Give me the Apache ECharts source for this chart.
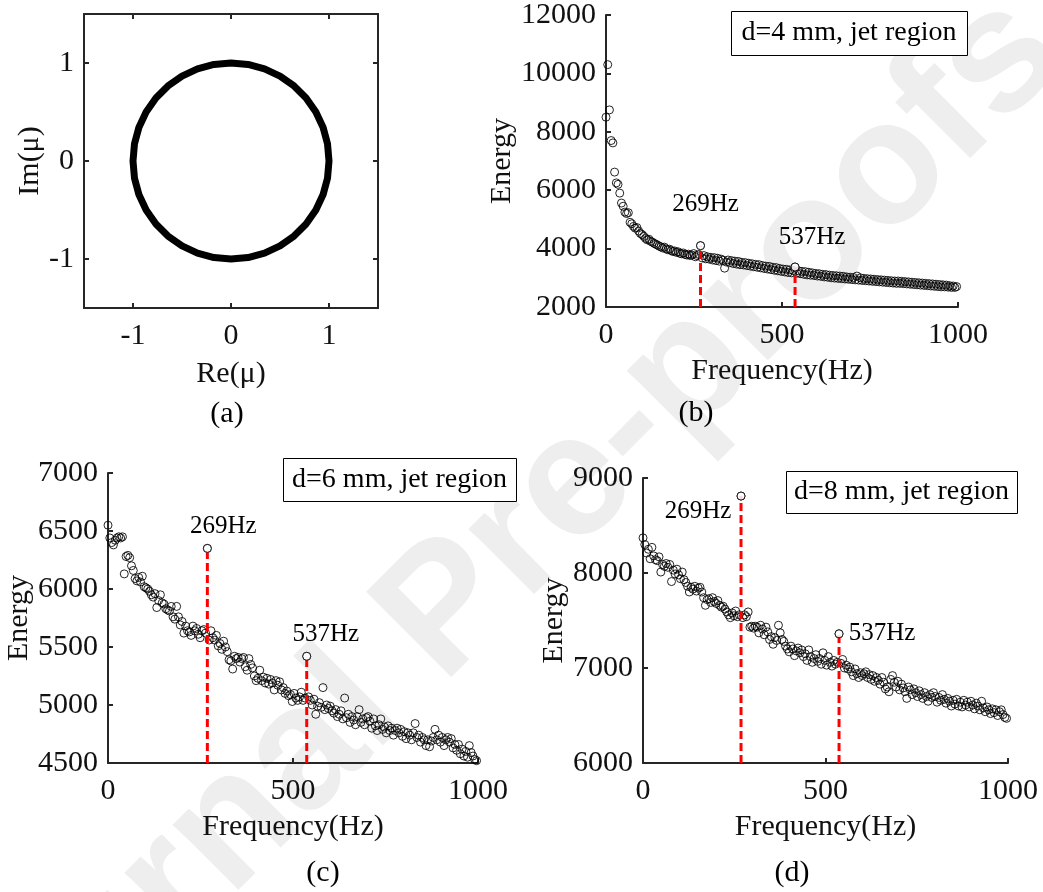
<!DOCTYPE html>
<html><head><meta charset="utf-8">
<script src="https://cdn.jsdelivr.net/npm/echarts@6/dist/echarts.min.js"></script>
<style>html,body{margin:0;padding:0;background:#fff}#c{width:1043px;height:892px}</style>
</head><body><div id="c"></div>
<script>
// ---------- data ----------
// (a) eigenvalues on the unit circle
const circleRe = [1,0.985,0.940,0.866,0.766,0.643,0.5,0.342,0.174,0,-0.174,-0.342,-0.5,-0.643,-0.766,-0.866,-0.940,-0.985,-1,-0.985,-0.940,-0.866,-0.766,-0.643,-0.5,-0.342,-0.174,0,0.174,0.342,0.5,0.643,0.766,0.866,0.940,0.985,1];
const circleIm = [0,0.174,0.342,0.5,0.643,0.766,0.866,0.940,0.985,1,0.985,0.940,0.866,0.766,0.643,0.5,0.342,0.174,0,-0.174,-0.342,-0.5,-0.643,-0.766,-0.866,-0.940,-0.985,-1,-0.985,-0.940,-0.866,-0.766,-0.643,-0.5,-0.342,-0.174,0];
const unitRange = [-1.5, 1.5];
const unitTicks = [-1, 0, 1];

// FFT bin spacing (Hz) of the energy spectra
const freqStep = 4.8828;

// (b) d=4 mm
const energyB = [
8500,10300,8750,7700,7620,6620,6250,6200,5900,5560,
5450,5250,5200,5230,4900,4850,4760,4700,4720,4600,
4520,4480,4420,4350,4300,4320,4250,4220,4180,4150,
4120,4080,4060,4020,4050,3990,3960,3980,3930,3900,
3920,3870,3890,3840,3820,3850,3800,3780,3810,3760,
3780,3830,3720,3760,3800,4100,3680,3760,3650,3720,
3640,3700,3610,3690,3590,3670,3570,3640,3600,3330,
3540,3610,3520,3590,3490,3570,3470,3560,3450,3530,
3440,3520,3420,3500,3400,3480,3380,3460,3360,3450,
3340,3420,3320,3400,3300,3390,3280,3360,3260,3350,
3240,3320,3220,3300,3200,3290,3180,3270,3170,3250,
3370,3160,3240,3140,3220,3120,3210,3100,3190,3090,
3170,3080,3150,3060,3140,3050,3120,3030,3110,3020,
3090,3000,3080,2990,3070,2980,3060,2970,3050,2960,
3030,2950,3020,2940,3010,2930,3060,2920,3000,2910,
2980,2900,2970,2890,2960,2880,2950,2870,2940,2860,
2930,2850,2920,2840,2910,2830,2900,2820,2890,2810,
2890,2810,2880,2800,2870,2790,2860,2780,2850,2770,
2840,2760,2830,2750,2820,2740,2810,2730,2800,2720,
2790,2710,2780,2700,2770,2690,2760,2690,2750,2680,
2730,2670,2720,2670,2700];

// (c) d=6 mm
const energyC = [
6550,6440,6400,6380,6420,6440,6450,6440,6450,6130,
6280,6290,6270,6200,6160,6090,6070,6100,6060,6110,
6020,6010,6000,5980,5950,5930,5960,5840,5900,5950,
5880,5870,5830,5820,5810,5850,5760,5740,5850,5760,
5690,5720,5620,5680,5640,5630,5600,5680,5640,5660,
5610,5580,5640,5650,5620,6350,5560,5640,5580,5560,
5600,5510,5530,5480,5550,5500,5460,5390,5380,5310,
5420,5400,5410,5370,5400,5410,5330,5300,5400,5350,
5320,5250,5210,5230,5300,5210,5240,5190,5230,5180,
5220,5190,5130,5210,5170,5200,5130,5150,5100,5120,
5080,5090,5030,5100,5060,5040,5070,5110,5040,5060,
5420,5070,5040,5000,5050,4920,4990,5020,4980,5150,
4960,5000,4970,4990,4950,4930,4960,4900,4920,4950,
4880,5060,4890,4920,4850,4900,4870,4830,4900,4960,
4850,4880,4830,4890,4900,4860,4800,4880,4820,4780,
4830,4880,4790,4810,4760,4820,4780,4800,4740,4780,
4800,4760,4790,4730,4770,4710,4760,4740,4700,4760,
4840,4720,4740,4680,4720,4700,4650,4700,4640,4690,
4720,4790,4700,4740,4680,4720,4650,4700,4720,4680,
4710,4630,4660,4610,4660,4580,4620,4560,4600,4550,
4650,4590,4560,4530,4520];

// (d) d=8 mm
const energyD = [
8370,8300,8210,8250,8150,8270,8180,8140,8130,8170,
8010,8090,8070,8100,8060,8090,7910,8030,7990,8040,
7980,7940,8010,7930,7900,7860,7800,7850,7830,7860,
7810,7840,7850,7800,7740,7660,7720,7730,7690,7740,
7700,7680,7710,7660,7640,7650,7620,7590,7560,7530,
7580,7550,7600,7540,7560,8810,7530,7560,7540,7590,
7430,7440,7420,7440,7430,7370,7450,7410,7350,7430,
7380,7300,7330,7250,7320,7290,7450,7370,7300,7280,
7230,7200,7170,7230,7200,7130,7180,7210,7160,7190,
7120,7150,7080,7190,7120,7060,7100,7140,7070,7100,
7040,7160,7080,7030,7120,7060,7020,7080,7040,7060,
7360,7050,7090,7000,7030,6990,7010,6960,6920,6990,
6940,6900,6950,6920,6940,6960,6900,6930,6880,6920,
6860,6900,6870,6830,6900,6850,6780,6800,6750,6880,
6920,6850,6800,6860,6770,6830,6790,6750,6680,6800,
6770,6720,6780,6740,6700,6760,6720,6680,6740,6700,
6650,6720,6690,6740,6700,6640,6690,6660,6720,6670,
6630,6680,6650,6600,6660,6620,6670,6600,6640,6590,
6660,6610,6640,6590,6650,6610,6570,6630,6600,6560,
6650,6580,6540,6590,6560,6520,6570,6530,6560,6500,
6540,6560,6510,6480,6470];

const peakIdx = [55, 110];
const peakLabels = ['269Hz', '537Hz'];
const panelNotes = ['d=4 mm, jet region', 'd=6 mm, jet region', 'd=8 mm, jet region'];
const panelLetters = ['(a)', '(b)', '(c)', '(d)'];
const freqAxis = [0, 1000, 500];
const energyAxes = [[2000, 12000, 2000], [4500, 7000, 500], [6000, 9000, 1000]];
const energies = [energyB, energyC, energyD];

// ---------- layout / style ----------
const FONT = '"Liberation Serif", "Times New Roman", serif';
const AX = '#262626';
const grids = [
  {left: 84, top: 14, width: 294, height: 294},
  {left: 606, top: 15, width: 352, height: 292},
  {left: 108, top: 473, width: 370, height: 290},
  {left: 643, top: 478, width: 365, height: 285}
];
const xNameGap = [51, 49, 49, 49];
const yNameGap = [35, 80, 66, 71];
const labelOffsets = [[[5, -41], [17, -30]], [[16, -22], [19, -22]], [[-43, 15], [43, 0]]];
const noteBoxes = [[731, 11, 236, 44], [283, 458, 233, 43], [786, 471, 231, 42]];
const letterPos = [[227, 414], [696, 413], [323, 873], [792, 873]];

const lineSt = {color: AX, width: 2};
const fmt = v => String(v);
const labelSt = {fontSize: 30, fontFamily: FONT, color: '#111', formatter: fmt};

function axis(gridIndex, type, range, extra) {
  const a = {
    type: 'value', gridIndex, min: range[0], max: range[1],
    axisLine: {show: true, onZero: false, lineStyle: lineSt},
    axisTick: {show: true, inside: true, length: 5, lineStyle: lineSt},
    axisLabel: Object.assign({show: true, margin: type === 'x' ? 13 : 10}, labelSt),
    splitLine: {show: false},
    nameLocation: 'middle',
    nameTextStyle: {fontSize: 30, fontFamily: FONT, color: '#111'}
  };
  if (range[2] !== undefined) a.interval = range[2];
  return Object.assign(a, extra || {});
}

const xAxes = [], yAxes = [], series = [];

// panel (a)
xAxes.push(axis(0, 'x', unitRange, {
  position: 'bottom', name: 'Re(μ)', nameGap: xNameGap[0],
  axisTick: {show: true, inside: true, length: 5, lineStyle: lineSt, customValues: unitTicks},
  axisLabel: Object.assign({margin: 13, customValues: unitTicks}, labelSt)
}));
xAxes.push(axis(0, 'x', unitRange, {
  position: 'top',
  axisTick: {show: true, inside: true, length: 5, lineStyle: lineSt, customValues: unitTicks},
  axisLabel: {show: false}
}));
yAxes.push(axis(0, 'y', unitRange, {
  position: 'left', name: 'Im(μ)', nameGap: yNameGap[0],
  axisTick: {show: true, inside: true, length: 5, lineStyle: lineSt, customValues: unitTicks},
  axisLabel: Object.assign({margin: 10, customValues: unitTicks}, labelSt)
}));
yAxes.push(axis(0, 'y', unitRange, {
  position: 'right',
  axisTick: {show: true, inside: true, length: 5, lineStyle: lineSt, customValues: unitTicks},
  axisLabel: {show: false}
}));
series.push({
  type: 'line', xAxisIndex: 0, yAxisIndex: 0,
  data: circleRe.map((r, i) => [r, circleIm[i]]),
  symbol: 'none', smooth: false, clip: false,
  lineStyle: {color: '#000', width: 7, join: 'round', cap: 'round'},
  silent: true, z: 2
});

// panels (b)-(d)
energies.forEach((E, k) => {
  const ai = k + 2;
  xAxes.push(axis(k + 1, 'x', freqAxis, {position: 'bottom', name: 'Frequency(Hz)', nameGap: xNameGap[k + 1]}));
  yAxes.push(axis(k + 1, 'y', energyAxes[k], {position: 'left', name: 'Energy', nameGap: yNameGap[k + 1]}));
  series.push({
    type: 'scatter', xAxisIndex: ai, yAxisIndex: ai,
    data: E.map((v, i) => [i * freqStep, v]),
    symbol: 'circle', symbolSize: 8, clip: false, silent: true,
    itemStyle: {color: 'rgba(0,0,0,0)', borderColor: '#000', borderWidth: 1, opacity: 0.85},
    z: 2
  });
  peakIdx.forEach((pi) => {
    series.push({
      type: 'line', xAxisIndex: ai, yAxisIndex: ai,
      data: [[pi * freqStep, energyAxes[k][0]], [pi * freqStep, E[pi]]],
      symbol: 'none', silent: true, clip: false,
      lineStyle: {color: '#ff0000', width: 3, type: [8, 4]},
      z: 3
    });
  });
  series.push({
    type: 'scatter', xAxisIndex: ai, yAxisIndex: ai,
    data: peakIdx.map((pi, j) => ({
      value: [pi * freqStep, E[pi]],
      label: {show: true, position: 'inside', formatter: peakLabels[j], offset: labelOffsets[k][j]}
    })),
    symbol: 'circle', symbolSize: 8, clip: false, silent: true,
    itemStyle: {color: '#fff', borderColor: '#000', borderWidth: 1, opacity: 0.85},
    label: {fontSize: 25, fontFamily: FONT, color: '#000', align: 'center', verticalAlign: 'middle',
            textBorderWidth: 0, textBorderColor: 'transparent', opacity: 1},
    z: 4
  });
});

// graphic: watermark, notes, panel letters
const graphic = [];
graphic.push({
  type: 'text', x: 481, y: 579, rotation: Math.PI / 4, z: -10, silent: true,
  style: {text: 'Journal Pre-proofs', font: 'bold 175px "Liberation Sans", Arial, sans-serif',
          fill: '#eeeeee', textAlign: 'center', textVerticalAlign: 'middle'}
});
panelNotes.forEach((t, k) => {
  const b = noteBoxes[k];
  graphic.push({type: 'rect', z: 50, silent: true,
    shape: {x: b[0] + 0.5, y: b[1] + 0.5, width: b[2], height: b[3]},
    style: {fill: '#fff', stroke: '#000', lineWidth: 1}});
  graphic.push({type: 'text', z: 51, silent: true, x: b[0] + b[2] / 2, y: b[1] + b[3] / 2,
    style: {text: t, font: '28px ' + FONT, fill: '#000', textAlign: 'center', textVerticalAlign: 'middle'}});
});
panelLetters.forEach((t, k) => {
  graphic.push({type: 'text', z: 51, silent: true, x: letterPos[k][0], y: letterPos[k][1],
    style: {text: t, font: '30px ' + FONT, fill: '#000', textAlign: 'center', textVerticalAlign: 'middle'}});
});

const chart = echarts.init(document.getElementById('c'), null, {renderer: 'canvas'});
chart.setOption({
  animation: false,
  backgroundColor: '#fff',
  grid: grids.map(g => Object.assign({containLabel: false}, g)),
  xAxis: xAxes,
  yAxis: yAxes,
  series,
  graphic: {elements: graphic}
});
</script></body></html>
